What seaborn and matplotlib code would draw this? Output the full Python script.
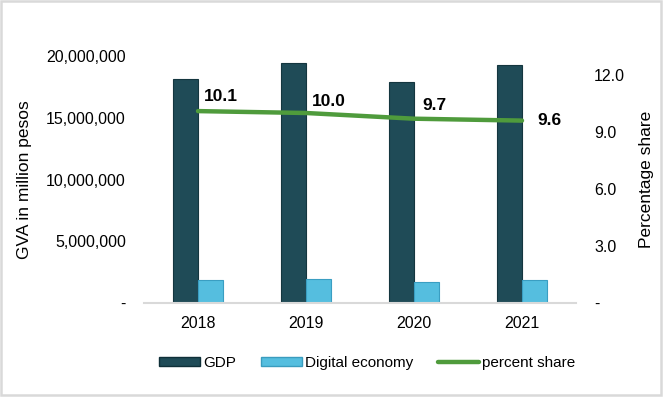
import pandas as pd
import matplotlib.pyplot as plt
import seaborn as sns
from matplotlib.patches import Rectangle
from matplotlib.lines import Line2D
from matplotlib.ticker import FuncFormatter

# data
years = ['2018', '2019', '2020', '2021']
gdp = [18100000, 19410000, 17870000, 19270000]
digital_economy = [1830000, 1940000, 1730000, 1850000]
percent_share = [10.1, 10.0, 9.7, 9.6]

GDP_COLOR = '#1F4B57'
DE_COLOR = '#55BEDF'
LINE_COLOR = '#4F9B3C'
GRID_GRAY = '#D9D9D9'

sns.set_style('white')
plt.rcParams['font.family'] = ['Liberation Sans', 'DejaVu Sans']
plt.rcParams['text.color'] = 'black'
plt.rcParams['axes.labelcolor'] = 'black'
plt.rcParams['xtick.color'] = 'black'
plt.rcParams['ytick.color'] = 'black'

df = pd.DataFrame({
    'Year': years * 2,
    'Value': gdp + digital_economy,
    'Series': ['GDP'] * 4 + ['Digital economy'] * 4,
})

fig = plt.figure(figsize=(6.64, 3.98), dpi=100)
ax = fig.add_axes([144 / 664, 1 - 303 / 398, 432 / 664, 247 / 398])

sns.barplot(data=df, x='Year', y='Value', hue='Series',
            palette=[GDP_COLOR, DE_COLOR], width=0.46, gap=0,
            saturation=1, ax=ax, legend=False)
# thin darker rims, a nod to the bevelled bars
for bar in ax.patches:
    fc = bar.get_facecolor()
    bar.set_edgecolor('#14363F' if fc[2] < 0.5 else '#3A9EC2')
    bar.set_linewidth(0.8)

ax.set_xlim(-0.5, 3.5)
ax.set_ylim(0, 20000000)
ax.set_yticks([0, 5000000, 10000000, 15000000, 20000000])
ax.yaxis.set_major_formatter(FuncFormatter(lambda v, p: '-' if v == 0 else f'{v:,.0f}'))
ax.set_xlabel('')
ax.set_ylabel('GVA in million pesos', fontsize=12.5, labelpad=10)
ax.tick_params(axis='y', length=0, pad=13, labelsize=11.5)
ax.tick_params(axis='x', length=0, pad=9, labelsize=11.5)
for s in ['left', 'right', 'top']:
    ax.spines[s].set_visible(False)
ax.spines['bottom'].set_color(GRID_GRAY)
ax.spines['bottom'].set_linewidth(1.5)

# percent share on the secondary axis
ax2 = ax.twinx()
sns.lineplot(x=[0, 1, 2, 3], y=percent_share, color=LINE_COLOR, linewidth=3.2,
             ax=ax2, solid_capstyle='round')
ax2.set_ylim(0, 13)
ax2.set_yticks([0, 3, 6, 9, 12])
ax2.yaxis.set_major_formatter(FuncFormatter(lambda v, p: '-' if v == 0 else f'{v:.1f}'))
ax2.set_ylabel('Percentage share', fontsize=12.5, labelpad=10)
ax2.tick_params(axis='y', length=0, pad=13, labelsize=11.5)
for s in ['left', 'right', 'top', 'bottom']:
    ax2.spines[s].set_visible(False)

label_offsets = [(23, 15), (23, 11), (20, 13), (27, 0)]
for i, (v, off) in enumerate(zip(percent_share, label_offsets)):
    ax2.annotate(f'{v:.1f}', (i, v), xytext=off, textcoords='offset pixels',
                 ha='center', va='center', fontsize=12.5, fontweight='bold')

handles = [
    Rectangle((0, 0), 1, 1, facecolor=GDP_COLOR, edgecolor='#0F2F38'),
    Rectangle((0, 0), 1, 1, facecolor=DE_COLOR, edgecolor='#3A9CBE'),
    Line2D([0], [0], color=LINE_COLOR, linewidth=3.2, solid_capstyle='round'),
]
fig.legend(handles, ['GDP', 'Digital economy', 'percent share'], ncol=3,
           loc='center', bbox_to_anchor=(367 / 664, 1 - 363 / 398),
           frameon=False, fontsize=11, handlelength=2.7, handleheight=0.5,
           handletextpad=0.2, columnspacing=1.6)

# chart border
fig.patches.append(Rectangle((1 / 664, 3 / 398), 660 / 664, 394 / 398,
                             transform=fig.transFigure, fill=False,
                             edgecolor=GRID_GRAY, linewidth=1.8))

fig.savefig('out.png', dpi=100)
